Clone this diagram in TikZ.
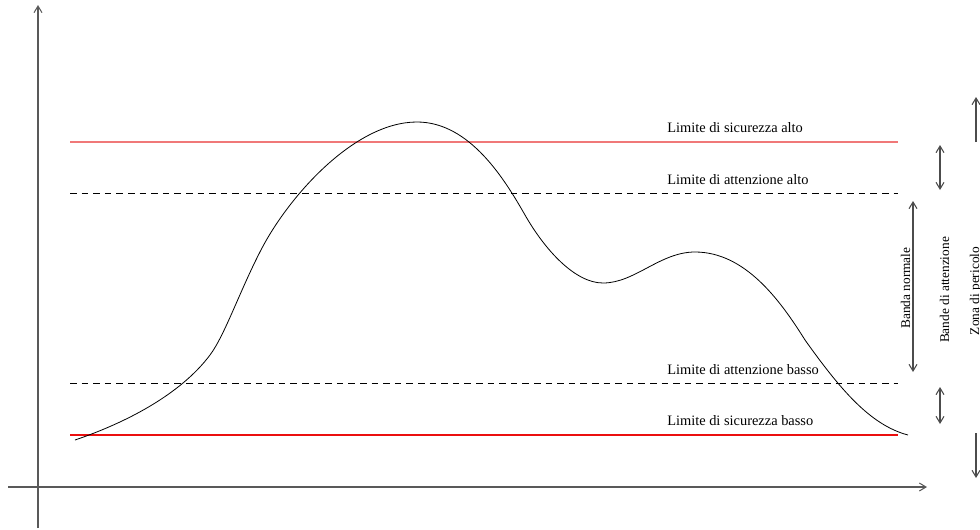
\documentclass[tikz,border=0pt]{standalone}
\usepackage{fontspec}
\setmainfont{Liberation Serif}
\usetikzlibrary{arrows.meta}
\begin{document}
\begin{tikzpicture}[x=0.75pt,y=-0.75pt,
  barb/.tip={Straight Barb[length=5pt,width=6pt]},
  axisline/.style={draw=black!65, line width=0.8pt, -barb},
  dblarrow/.style={draw=black!70, line width=0.8pt, barb-barb},
  onearrow/.style={draw=black!70, line width=0.8pt, -barb},
  safehi/.style={draw={rgb,255:red,240;green,120;blue,120}, line width=0.9pt},
  safelo/.style={draw={rgb,255:red,235;green,15;blue,15}, line width=0.85pt},
  warnline/.style={draw=black, line width=0.6pt, dash pattern=on 5pt off 3.7pt},
  curveline/.style={draw=black, line width=0.6pt},
  lbl/.style={font=\fontsize{10.8}{12}\selectfont, inner sep=0pt, anchor=base west},
  rlbl/.style={font=\fontsize{10}{12}\selectfont, inner sep=0pt, anchor=base, rotate=90}
]
\useasboundingbox (0,0) rectangle (980,529);

% axes
\coordinate (yb) at (38,528);
\coordinate (yt) at (38,5);
\coordinate (xl) at (8,487);
\coordinate (xr) at (927,487);
\draw[axisline] (yb) -- (yt);
\draw[axisline] (xl) -- (xr);

% limit lines
\coordinate (sa1) at (70,142);  \coordinate (sa2) at (898,142);
\coordinate (aa1) at (70,193);  \coordinate (aa2) at (898,193);
\coordinate (ab1) at (70,383);  \coordinate (ab2) at (898,383);
\coordinate (sb1) at (70,435);  \coordinate (sb2) at (898,435);
\draw[safehi] (sa1) -- (sa2);
\draw[warnline] (aa1) -- (aa2);
\draw[warnline] (ab1) -- (ab2);
\draw[safelo] (sb1) -- (sb2);

% labels
\node[lbl] (tsa) at (667,132) {Limite di sicurezza alto};
\node[lbl] (taa) at (667,184) {Limite di attenzione alto};
\node[lbl] (tab) at (667,374) {Limite di attenzione basso};
\node[lbl] (tsb) at (667,425) {Limite di sicurezza basso};

% curve
\draw[curveline] (75,440)
  .. controls (125,423) and (180,395) .. (210,355)
  .. controls (225,335) and (240,290) .. (262,248)
  .. controls (290,195) and (355,122) .. (417,122)
  .. controls (470,122) and (505,180) .. (525,215)
  .. controls (545,250) and (575,283) .. (603,283)
  .. controls (635,283) and (660,252) .. (695,252)
  .. controls (745,252) and (780,300) .. (805,340)
  .. controls (840,389) and (870,425) .. (908,435);

% right-side arrows
\coordinate (u1t) at (940,145); \coordinate (u1b) at (940,190);
\coordinate (bnt) at (913,201); \coordinate (bnb) at (913,372);
\coordinate (l1t) at (940,387); \coordinate (l1b) at (940,424);
\coordinate (zts) at (976,142); \coordinate (zte) at (976,97);
\coordinate (zbs) at (976,433); \coordinate (zbe) at (976,478);
\draw[dblarrow] (u1t) -- (u1b);
\draw[dblarrow] (bnt) -- (bnb);
\draw[dblarrow] (l1t) -- (l1b);
\draw[onearrow] (zts) -- (zte);
\draw[onearrow] (zbs) -- (zbe);

\node[rlbl] (tbn) at (910,288) {Banda normale};
\node[rlbl] (tba) at (949,290) {Bande di attenzione};
\node[rlbl] (tzp) at (979,291) {Zona di pericolo};
\end{tikzpicture}
\end{document}
